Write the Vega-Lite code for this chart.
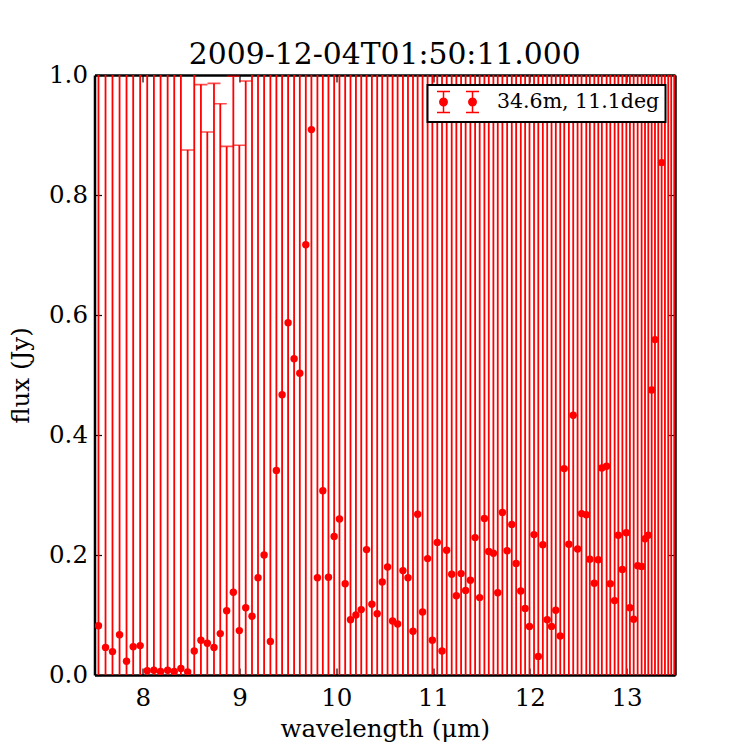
{
  "$schema": "https://vega.github.io/schema/vega-lite/v6.json",
  "autosize": {"type": "none"},
  "padding": {"left": 94.5, "top": 75, "right": 75, "bottom": 75},
  "width": 580.5,
  "height": 600,
  "background": "white",
  "title": {"text": "2009-12-04T01:50:11.000", "font": "DejaVu Serif", "fontSize": 29.8, "fontWeight": "normal", "color": "black", "offset": -8, "anchor": "middle"},
  "config": {
    "view": {"stroke": null},
    "axis": {
      "grid": false, "domainColor": "black", "domainWidth": 2.5, "tickColor": "black", "tickWidth": 1.2, "tickSize": -7,
      "labelFont": "DejaVu Serif", "labelFontSize": 24.5, "labelColor": "black", "titleFont": "DejaVu Serif", "titleFontSize": 24.5,
      "titleFontWeight": "normal", "titleColor": "black", "zindex": 1
    },
    "legend": {"strokeWidth": 2}
  },
  "data": {"values": [
    {"w": 7.541, "flux": 0.082, "lo": -1, "hi": 2},
    {"w": 7.614, "flux": 0.046, "lo": -1, "hi": 2},
    {"w": 7.686, "flux": 0.039, "lo": -1, "hi": 2},
    {"w": 7.759, "flux": 0.067, "lo": -1, "hi": 2},
    {"w": 7.831, "flux": 0.023, "lo": -1, "hi": 2},
    {"w": 7.9, "flux": 0.047, "lo": -1, "hi": 2},
    {"w": 7.972, "flux": 0.049, "lo": -1, "hi": 2},
    {"w": 8.045, "flux": 0.007, "lo": -1, "hi": 2},
    {"w": 8.114, "flux": 0.008, "lo": -1, "hi": 2},
    {"w": 8.183, "flux": 0.006, "lo": -1, "hi": 2},
    {"w": 8.256, "flux": 0.008, "lo": -1, "hi": 2},
    {"w": 8.324, "flux": 0.006, "lo": -1, "hi": 2},
    {"w": 8.393, "flux": 0.011, "lo": -1, "hi": 2},
    {"w": 8.463, "flux": 0.005, "lo": -0.865, "hi": 0.875},
    {"w": 8.531, "flux": 0.04, "lo": -1, "hi": 2},
    {"w": 8.6, "flux": 0.058, "lo": -0.868, "hi": 0.984},
    {"w": 8.666, "flux": 0.053, "lo": -0.799, "hi": 0.905},
    {"w": 8.735, "flux": 0.046, "lo": -0.894, "hi": 0.986},
    {"w": 8.8, "flux": 0.069, "lo": -0.814, "hi": 0.952},
    {"w": 8.866, "flux": 0.107, "lo": -0.667, "hi": 0.881},
    {"w": 8.935, "flux": 0.138, "lo": -0.722, "hi": 0.998},
    {"w": 8.997, "flux": 0.074, "lo": -0.735, "hi": 0.883},
    {"w": 9.063, "flux": 0.112, "lo": -0.766, "hi": 0.99},
    {"w": 9.128, "flux": 0.098, "lo": -1, "hi": 2},
    {"w": 9.19, "flux": 0.162, "lo": -1, "hi": 2},
    {"w": 9.253, "flux": 0.2, "lo": -1, "hi": 2},
    {"w": 9.318, "flux": 0.056, "lo": -1, "hi": 2},
    {"w": 9.38, "flux": 0.341, "lo": -1, "hi": 2},
    {"w": 9.439, "flux": 0.467, "lo": -1, "hi": 2},
    {"w": 9.501, "flux": 0.587, "lo": -1, "hi": 2},
    {"w": 9.563, "flux": 0.527, "lo": -1, "hi": 2},
    {"w": 9.622, "flux": 0.503, "lo": -1, "hi": 2},
    {"w": 9.684, "flux": 0.717, "lo": -1, "hi": 2},
    {"w": 9.742, "flux": 0.909, "lo": -1, "hi": 2},
    {"w": 9.804, "flux": 0.162, "lo": -1, "hi": 2},
    {"w": 9.86, "flux": 0.307, "lo": -1, "hi": 2},
    {"w": 9.918, "flux": 0.163, "lo": -1, "hi": 2},
    {"w": 9.977, "flux": 0.231, "lo": -1, "hi": 2},
    {"w": 10.032, "flux": 0.26, "lo": -1, "hi": 2},
    {"w": 10.091, "flux": 0.152, "lo": -1, "hi": 2},
    {"w": 10.146, "flux": 0.092, "lo": -1, "hi": 2},
    {"w": 10.202, "flux": 0.1, "lo": -1, "hi": 2},
    {"w": 10.257, "flux": 0.109, "lo": -1, "hi": 2},
    {"w": 10.312, "flux": 0.209, "lo": -1, "hi": 2},
    {"w": 10.367, "flux": 0.118, "lo": -1, "hi": 2},
    {"w": 10.422, "flux": 0.102, "lo": -1, "hi": 2},
    {"w": 10.474, "flux": 0.155, "lo": -1, "hi": 2},
    {"w": 10.529, "flux": 0.18, "lo": -1, "hi": 2},
    {"w": 10.581, "flux": 0.09, "lo": -1, "hi": 2},
    {"w": 10.633, "flux": 0.085, "lo": -1, "hi": 2},
    {"w": 10.688, "flux": 0.174, "lo": -1, "hi": 2},
    {"w": 10.74, "flux": 0.162, "lo": -1, "hi": 2},
    {"w": 10.792, "flux": 0.073, "lo": -1, "hi": 2},
    {"w": 10.84, "flux": 0.268, "lo": -1, "hi": 2},
    {"w": 10.891, "flux": 0.105, "lo": -1, "hi": 2},
    {"w": 10.943, "flux": 0.194, "lo": -1, "hi": 2},
    {"w": 10.992, "flux": 0.058, "lo": -1, "hi": 2},
    {"w": 11.043, "flux": 0.221, "lo": -1, "hi": 2},
    {"w": 11.092, "flux": 0.04, "lo": -1, "hi": 2},
    {"w": 11.14, "flux": 0.208, "lo": -1, "hi": 2},
    {"w": 11.192, "flux": 0.168, "lo": -1, "hi": 2},
    {"w": 11.24, "flux": 0.132, "lo": -1, "hi": 2},
    {"w": 11.289, "flux": 0.169, "lo": -1, "hi": 2},
    {"w": 11.336, "flux": 0.141, "lo": -1, "hi": 2},
    {"w": 11.385, "flux": 0.158, "lo": -1, "hi": 2},
    {"w": 11.434, "flux": 0.229, "lo": -1, "hi": 2},
    {"w": 11.481, "flux": 0.129, "lo": -1, "hi": 2},
    {"w": 11.53, "flux": 0.261, "lo": -1, "hi": 2},
    {"w": 11.575, "flux": 0.206, "lo": -1, "hi": 2},
    {"w": 11.623, "flux": 0.203, "lo": -1, "hi": 2},
    {"w": 11.668, "flux": 0.137, "lo": -1, "hi": 2},
    {"w": 11.716, "flux": 0.271, "lo": -1, "hi": 2},
    {"w": 11.765, "flux": 0.207, "lo": -1, "hi": 2},
    {"w": 11.813, "flux": 0.251, "lo": -1, "hi": 2},
    {"w": 11.858, "flux": 0.186, "lo": -1, "hi": 2},
    {"w": 11.906, "flux": 0.14, "lo": -1, "hi": 2},
    {"w": 11.951, "flux": 0.111, "lo": -1, "hi": 2},
    {"w": 11.996, "flux": 0.081, "lo": -1, "hi": 2},
    {"w": 12.043, "flux": 0.234, "lo": -1, "hi": 2},
    {"w": 12.087, "flux": 0.031, "lo": -1, "hi": 2},
    {"w": 12.134, "flux": 0.217, "lo": -1, "hi": 2},
    {"w": 12.179, "flux": 0.092, "lo": -1, "hi": 2},
    {"w": 12.224, "flux": 0.081, "lo": -1, "hi": 2},
    {"w": 12.268, "flux": 0.108, "lo": -1, "hi": 2},
    {"w": 12.314, "flux": 0.065, "lo": -1, "hi": 2},
    {"w": 12.355, "flux": 0.344, "lo": -1, "hi": 2},
    {"w": 12.403, "flux": 0.218, "lo": -1, "hi": 2},
    {"w": 12.448, "flux": 0.433, "lo": -1, "hi": 2},
    {"w": 12.493, "flux": 0.21, "lo": -1, "hi": 2},
    {"w": 12.534, "flux": 0.269, "lo": -1, "hi": 2},
    {"w": 12.583, "flux": 0.267, "lo": -1, "hi": 2},
    {"w": 12.62, "flux": 0.193, "lo": -1, "hi": 2},
    {"w": 12.666, "flux": 0.153, "lo": -1, "hi": 2},
    {"w": 12.707, "flux": 0.192, "lo": -1, "hi": 2},
    {"w": 12.744, "flux": 0.345, "lo": -1, "hi": 2},
    {"w": 12.793, "flux": 0.348, "lo": -1, "hi": 2},
    {"w": 12.831, "flux": 0.152, "lo": -1, "hi": 2},
    {"w": 12.876, "flux": 0.124, "lo": -1, "hi": 2},
    {"w": 12.914, "flux": 0.233, "lo": -1, "hi": 2},
    {"w": 12.956, "flux": 0.176, "lo": -1, "hi": 2},
    {"w": 12.997, "flux": 0.237, "lo": -1, "hi": 2},
    {"w": 13.034, "flux": 0.112, "lo": -1, "hi": 2},
    {"w": 13.073, "flux": 0.093, "lo": -1, "hi": 2},
    {"w": 13.114, "flux": 0.182, "lo": -1, "hi": 2},
    {"w": 13.155, "flux": 0.181, "lo": -1, "hi": 2},
    {"w": 13.19, "flux": 0.227, "lo": -1, "hi": 2},
    {"w": 13.224, "flux": 0.233, "lo": -1, "hi": 2},
    {"w": 13.259, "flux": 0.475, "lo": -1, "hi": 2},
    {"w": 13.293, "flux": 0.559, "lo": -1, "hi": 2},
    {"w": 13.327, "flux": 1.1, "lo": -1, "hi": 2},
    {"w": 13.362, "flux": 0.854, "lo": -1, "hi": 2},
    {"w": 13.396, "flux": 1.1, "lo": -1, "hi": 2},
    {"w": 13.43, "flux": 1.1, "lo": -1, "hi": 2},
    {"w": 13.461, "flux": 1.1, "lo": -1, "hi": 2},
    {"w": 13.492, "flux": 1.1, "lo": -1, "hi": 2}
  ]},
  "resolve": {"axis": {"x": "independent", "y": "independent"}},
  "layer": [
    {
      "mark": {"type": "rule", "color": "#ff0000", "strokeWidth": 1.8, "clip": true},
      "encoding": {
        "x": {"field": "w", "type": "quantitative", "scale": {"domain": [7.5, 13.5], "nice": false},
          "axis": {"orient": "bottom", "values": [8, 9, 10, 11, 12, 13], "title": "wavelength (μm)", "labelPadding": 18, "titlePadding": 8}},
        "y": {"field": "lo", "type": "quantitative", "scale": {"domain": [0, 1], "nice": false},
          "axis": {"orient": "left", "values": [0, 0.2, 0.4, 0.6, 0.8, 1], "format": ".1f", "title": "flux (Jy)", "labelPadding": 14, "titlePadding": 15}},
        "y2": {"field": "hi"}
      }
    },
    {
      "mark": {"type": "tick", "color": "#ff0000", "orient": "horizontal", "size": 13, "thickness": 1.6, "clip": true},
      "encoding": {
        "x": {"field": "w", "type": "quantitative", "scale": {"domain": [7.5, 13.5], "nice": false},
          "axis": {"orient": "top", "values": [8, 9, 10, 11, 12, 13], "labels": false, "title": null}},
        "y": {"field": "hi", "type": "quantitative", "scale": {"domain": [0, 1], "nice": false},
          "axis": {"orient": "right", "values": [0, 0.2, 0.4, 0.6, 0.8, 1], "labels": false, "title": null}}
      }
    },
    {
      "mark": {"type": "circle", "size": 55, "opacity": 1, "clip": true},
      "encoding": {
        "x": {"field": "w", "type": "quantitative", "scale": {"domain": [7.5, 13.5], "nice": false}, "axis": null},
        "y": {"field": "flux", "type": "quantitative", "scale": {"domain": [0, 1], "nice": false}, "axis": null},
        "color": {
          "datum": "34.6m, 11.1deg",
          "type": "nominal",
          "scale": {"range": ["#ff0000"]},
          "legend": {
            "title": null, "orient": "top-right", "offset": 10, "padding": 6, "fillColor": "white", "strokeColor": "black",
            "symbolSize": 400, "symbolOffset": 13.5, "symbolStrokeWidth": 1.5, "symbolFillColor": "#ff0000", "symbolStrokeColor": "#ff0000",
            "symbolType": "M-1.45,-1.05 V1.05 M-2.1,-1.05 H-.8 M-2.1,1.05 H-.8 M-1.82,0 a.37,.37 0 1,0 .74,0 a.37,.37 0 1,0 -.74,0 M1.45,-1.05 V1.05 M.8,-1.05 H2.1 M.8,1.05 H2.1 M1.08,0 a.37,.37 0 1,0 .74,0 a.37,.37 0 1,0 -.74,0",
            "labelFont": "DejaVu Serif", "labelFontSize": 20.5, "labelColor": "black", "labelOffset": 28, "labelLimit": 300
          }
        }
      }
    }
  ]
}
